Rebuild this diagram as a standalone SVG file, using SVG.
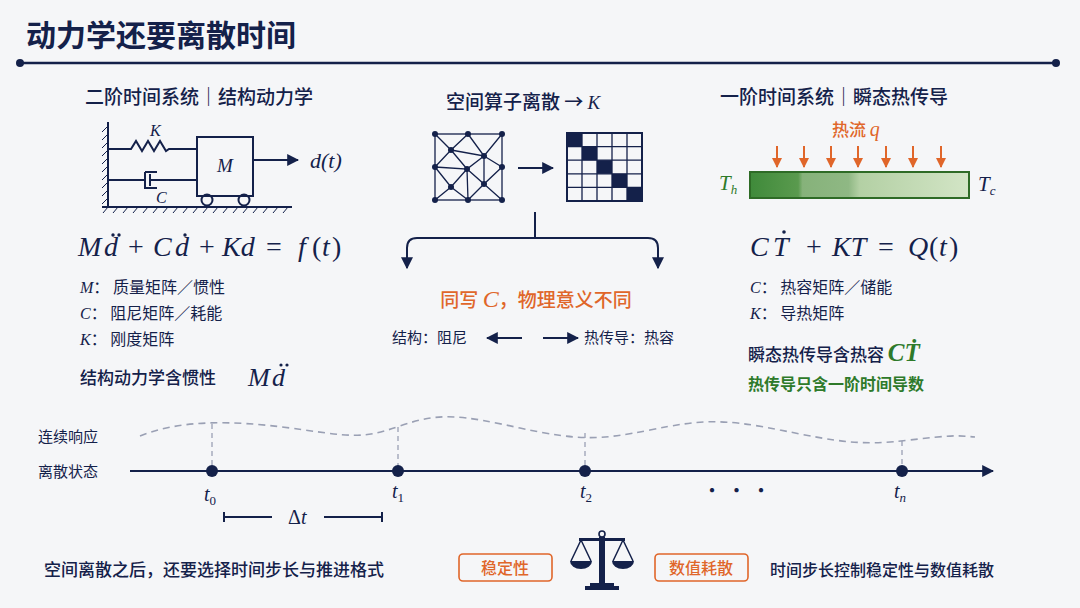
<svg xmlns="http://www.w3.org/2000/svg" width="1080" height="608" viewBox="0 0 1080 608">
<style>
.t{font-family:"Noto Sans CJK SC","Noto Sans",sans-serif;fill:#14214a}
.m{font-family:"Liberation Serif","DejaVu Serif",serif;font-style:italic;fill:#14214a}
.n{font-style:normal}
.ln{stroke:#14214a;stroke-width:2;fill:none}
.gr{fill:#2e7a2a}
.h{font-weight:500}
</style>
<defs>
<marker id="ah" viewBox="0 0 10 10" refX="9" refY="5" markerWidth="6" markerHeight="6" orient="auto"><path d="M0,0L10,5L0,10z" fill="#14214a"/></marker>
<marker id="ao" viewBox="0 0 10 10" refX="9" refY="5" markerWidth="5" markerHeight="5" orient="auto"><path d="M0,0L10,5L0,10z" fill="#e0662a"/></marker>
<linearGradient id="hg" x1="0" x2="1"><stop offset="0" stop-color="#3f8a3a"/><stop offset="0.22" stop-color="#5a9a4e"/><stop offset="0.24" stop-color="#86b27a"/><stop offset="0.45" stop-color="#8fb884"/><stop offset="0.5" stop-color="#b3d0a4"/><stop offset="1" stop-color="#d3e5c6"/></linearGradient>
</defs>
<rect width="1080" height="608" fill="#f5f6f8"/>
<g id="title">
<text x="26" y="46" class="t" font-size="30" font-weight="700">动力学还要离散时间</text>
<line x1="20" y1="63" x2="1056" y2="63" stroke="#14214a" stroke-width="2.5"/>
<circle cx="20" cy="63" r="4" fill="#14214a"/><circle cx="1056" cy="63" r="4" fill="#14214a"/>
</g>
<g id="left">
<text x="85" y="104" class="t h" font-size="19">二阶时间系统｜结构动力学</text>
<g class="ln" stroke-width="1.6">
<line x1="108" y1="122" x2="108" y2="207"/>
<path d="M108,126l-6,6M108,134l-6,6M108,142l-6,6M108,150l-6,6M108,158l-6,6M108,166l-6,6M108,174l-6,6M108,182l-6,6M108,190l-6,6M108,198l-6,6" stroke-width="1"/>
<line x1="102" y1="207" x2="292" y2="207"/>
<path d="M108,207l-5,6M118,207l-5,6M128,207l-5,6M138,207l-5,6M148,207l-5,6M158,207l-5,6M168,207l-5,6M178,207l-5,6M188,207l-5,6M198,207l-5,6M208,207l-5,6M218,207l-5,6M228,207l-5,6M238,207l-5,6M248,207l-5,6M258,207l-5,6M268,207l-5,6M278,207l-5,6M288,207l-5,6" stroke-width="1"/>
<path d="M108,149H131l5,-8l6,10l6,-10l6,10l6,-10l6,10l3,-2H197"/>
<path d="M108,180H145M145,172v16h12M145,172h12M150,174v12M150,180H197"/>
<rect x="197" y="137" width="56" height="59"/>
<circle cx="207" cy="200" r="5.5"/><circle cx="244" cy="200" r="5.5"/>
<line x1="253" y1="160" x2="298" y2="160" marker-end="url(#ah)"/>
</g>
<text x="150" y="136" class="m" font-size="16">K</text>
<text x="156" y="203" class="m" font-size="16">C</text>
<text x="217" y="172" class="m" font-size="19">M</text>
<text x="310" y="168" class="m" font-size="22">d(t)</text>
<text y="256" class="m" font-size="28"><tspan x="78">M</tspan><tspan x="104">d</tspan><tspan x="128" class="n">+</tspan><tspan x="153">C</tspan><tspan x="175">d</tspan><tspan x="199" class="n">+</tspan><tspan x="222">Kd</tspan><tspan x="266" class="n">=</tspan><tspan x="298">f</tspan><tspan x="312" class="n">(</tspan><tspan x="322">t</tspan><tspan x="332" class="n">)</tspan></text>
<g fill="#14214a"><circle cx="113" cy="235" r="1.7"/><circle cx="119" cy="235" r="1.7"/><circle cx="185" cy="235" r="1.7"/><circle cx="281" cy="365" r="1.6"/><circle cx="287" cy="365" r="1.6"/><circle cx="784" cy="232" r="1.8"/></g>
<text x="80" y="293" class="t" font-size="16"><tspan class="m">M</tspan>： 质量矩阵／惯性</text>
<text x="80" y="319" class="t" font-size="16"><tspan class="m">C</tspan>： 阻尼矩阵／耗能</text>
<text x="80" y="345" class="t" font-size="16"><tspan class="m">K</tspan>： 刚度矩阵</text>
<text x="80" y="384" class="t h" font-size="17">结构动力学含惯性</text>
<text y="386" class="m" font-size="26"><tspan x="248">M</tspan><tspan x="272">d</tspan></text>
</g>
<g id="middle">
<text x="446" y="109" class="t h" font-size="19">空间算子离散 → <tspan class="m">K</tspan></text>
<g stroke="#14214a" stroke-width="1.3" fill="none">
<rect x="435" y="134" width="67" height="66"/>
<path d="M435,134L451,150L468,134M451,150L484,156L502,134M468,134L484,156M451,150L435,167M451,150L467,169L484,156M484,156L502,167M484,156L484,184M435,167L467,169L451,187L435,200M467,169L484,184L502,167M484,184L502,200M484,184L468,200M451,187L468,200M467,169L468,200M435,167L451,187"/>
</g>
<g fill="#14214a"><circle cx="435" cy="134" r="3"/><circle cx="468" cy="134" r="3"/><circle cx="502" cy="134" r="3"/><circle cx="451" cy="150" r="3"/><circle cx="484" cy="156" r="3"/><circle cx="435" cy="167" r="3"/><circle cx="467" cy="169" r="3"/><circle cx="502" cy="167" r="3"/><circle cx="451" cy="187" r="3"/><circle cx="484" cy="184" r="3"/><circle cx="435" cy="200" r="3"/><circle cx="468" cy="200" r="3"/><circle cx="502" cy="200" r="3"/></g>
<line x1="518" y1="168" x2="553" y2="168" class="ln" stroke-width="2.5" marker-end="url(#ah)"/>
<g fill="#14214a"><rect x="567" y="133" width="15" height="13.6"/><rect x="582" y="146.6" width="15" height="13.6"/><rect x="597" y="160.2" width="15" height="13.6"/><rect x="612" y="173.8" width="15" height="13.6"/><rect x="627" y="187.4" width="15" height="13.6"/></g>
<g stroke="#14214a" stroke-width="1.3" fill="none"><rect x="567" y="133" width="75" height="68" stroke-width="2"/><path d="M582,133v68M597,133v68M612,133v68M627,133v68M567,146.6h75M567,160.2h75M567,173.8h75M567,187.4h75"/></g>
<g class="ln" stroke-width="1.6"><path d="M535,212V238"/><path d="M407,268V248Q407,238 417,238H648Q658,238 658,248V268" marker-end="url(#ah)"/><path d="M407,255V268" marker-end="url(#ah)"/></g>
<text x="536" y="307" text-anchor="middle" class="t h" font-size="19" style="fill:#e0662a">同写 <tspan class="m" style="fill:#e0662a" font-size="24">C</tspan>，物理意义不同</text>
<text x="392" y="343" class="t" font-size="15">结构：阻尼</text>
<line x1="522" y1="338" x2="487" y2="338" class="ln" stroke-width="1.6" marker-end="url(#ah)"/>
<line x1="543" y1="338" x2="578" y2="338" class="ln" stroke-width="1.6" marker-end="url(#ah)"/>
<text x="584" y="343" class="t" font-size="15">热传导：热容</text>
</g>
<g id="right">
<text x="720" y="104" class="t h" font-size="19">一阶时间系统｜瞬态热传导</text>
<text x="832" y="136" class="t h" font-size="17" style="fill:#e0662a">热流 <tspan class="m" style="fill:#e0662a" font-size="20">q</tspan></text>
<g stroke="#e0662a" stroke-width="2"><line x1="777" y1="146" x2="777" y2="167" marker-end="url(#ao)"/><line x1="804" y1="146" x2="804" y2="167" marker-end="url(#ao)"/><line x1="831" y1="146" x2="831" y2="167" marker-end="url(#ao)"/><line x1="858" y1="146" x2="858" y2="167" marker-end="url(#ao)"/><line x1="886" y1="146" x2="886" y2="167" marker-end="url(#ao)"/><line x1="913" y1="146" x2="913" y2="167" marker-end="url(#ao)"/><line x1="941" y1="146" x2="941" y2="167" marker-end="url(#ao)"/></g>
<rect x="750" y="172" width="219" height="26" fill="url(#hg)" stroke="#2e6b26" stroke-width="2"/>
<text x="719" y="190" class="m gr" font-size="21">T<tspan font-size="13" dy="4">h</tspan></text>
<text x="978" y="191" class="m" font-size="21">T<tspan font-size="13" dy="4">c</tspan></text>
<text y="256" class="m" font-size="28"><tspan x="750">C</tspan><tspan x="773">T</tspan><tspan x="806" class="n">+</tspan><tspan x="832">KT</tspan><tspan x="878" class="n">=</tspan><tspan x="908">Q</tspan><tspan x="929" class="n">(</tspan><tspan x="939">t</tspan><tspan x="949" class="n">)</tspan></text>
<text x="750" y="293" class="t" font-size="16"><tspan class="m">C</tspan>： 热容矩阵／储能</text>
<text x="750" y="319" class="t" font-size="16"><tspan class="m">K</tspan>： 导热矩阵</text>
<text x="748" y="361" class="t h" font-size="17">瞬态热传导含热容 <tspan class="m gr" font-size="25" font-weight="700">CṪ</tspan></text>
<text x="748" y="390" class="t gr" font-size="16" font-weight="700" style="fill:#2e7a2a">热传导只含一阶时间导数</text>
</g>
<g id="timeline">
<text x="38" y="442" class="t" font-size="15">连续响应</text>
<text x="38" y="477" class="t" font-size="15">离散状态</text>
<path d="M140,436C180,420 230,420 290,428S360,440 400,426S460,415 520,428S600,440 650,430S720,418 780,430S860,446 910,440S960,436 975,437" stroke="#9aa0b4" stroke-width="1.6" fill="none" stroke-dasharray="7,5"/>
<g stroke="#9aa0b4" stroke-width="1.3" stroke-dasharray="5,4"><line x1="212" y1="424" x2="212" y2="468"/><line x1="398" y1="427" x2="398" y2="468"/><line x1="585" y1="433" x2="585" y2="468"/><line x1="902" y1="441" x2="902" y2="468"/></g>
<line x1="130" y1="471" x2="993" y2="471" class="ln" marker-end="url(#ah)"/>
<g fill="#14214a"><circle cx="212" cy="471" r="6"/><circle cx="398" cy="471" r="6"/><circle cx="585" cy="471" r="6"/><circle cx="902" cy="471" r="6"/></g>
<text x="204" y="501" class="m" font-size="20">t<tspan class="n" font-size="13" dy="4">0</tspan></text>
<text x="392" y="498" class="m" font-size="20">t<tspan class="n" font-size="13" dy="4">1</tspan></text>
<text x="580" y="498" class="m" font-size="20">t<tspan class="n" font-size="13" dy="4">2</tspan></text>
<text x="702" y="498" class="t" font-size="20">• • •</text>
<text x="894" y="498" class="m" font-size="20">t<tspan font-size="13" dy="4">n</tspan></text>
<path d="M224,512v10M224,517h48M324,517h58M382,512v10" class="ln" stroke-width="1.5"/>
<text x="288" y="524" class="m n" font-size="20">Δ<tspan font-style="italic">t</tspan></text>
</g>
<g id="bottom">
<text x="44" y="576" class="t h" font-size="17">空间离散之后，还要选择时间步长与推进格式</text>
<rect x="459" y="554" width="93" height="27" rx="4" fill="none" stroke="#e0662a" stroke-width="1.6"/>
<text x="505" y="574" text-anchor="middle" class="t h" font-size="16" style="fill:#e0662a">稳定性</text>
<rect x="655" y="554" width="93" height="27" rx="4" fill="none" stroke="#e0662a" stroke-width="1.6"/>
<text x="701" y="574" text-anchor="middle" class="t h" font-size="16" style="fill:#e0662a">数值耗散</text>
<g fill="#14214a" stroke="#14214a">
<circle cx="602" cy="534" r="3" fill="none" stroke-width="1.6"/>
<rect x="599" y="537" width="6" height="48" stroke="none"/>
<rect x="579" y="538" width="46" height="3" stroke="none"/>
<path d="M581,540L571,561M581,540L591,561M623,540L613,561M623,540L633,561" stroke-width="1.5" fill="none"/>
<path d="M570,561h22a11,8 0 0 1 -22,0z" stroke="none"/>
<path d="M612,561h22a11,8 0 0 1 -22,0z" stroke="none"/>
<rect x="590" y="583" width="24" height="3" stroke="none"/>
<rect x="585" y="586" width="34" height="4" stroke="none"/>
</g>
<text x="770" y="576" class="t h" font-size="16">时间步长控制稳定性与数值耗散</text>
</g>
</svg>
